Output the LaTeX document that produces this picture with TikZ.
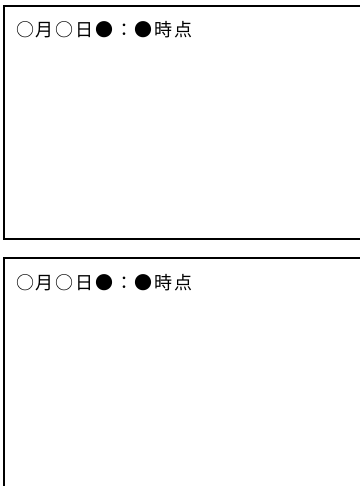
\documentclass[tikz,border=0pt]{standalone}
\usepackage{fontspec}
\newfontfamily\cjk[LetterSpace=10]{Noto Sans CJK JP}
\begin{document}
\begin{tikzpicture}[x=1pt,y=-1pt,
  panel/.style={draw=black,line width=2.2pt},
  stamp/.style={anchor=base west,inner sep=0pt,font=\cjk\fontsize{18}{20}\selectfont}]
\useasboundingbox[fill=white] (0,0) rectangle (359,486);
\draw[panel] (4,6) rectangle (380,239);
\draw[panel] (4,258) rectangle (380,500);
\node[stamp] (t1) at (16,37) {○月○日●：●時点};
\node[stamp] (t2) at (16,289) {○月○日●：●時点};
\end{tikzpicture}
\end{document}
